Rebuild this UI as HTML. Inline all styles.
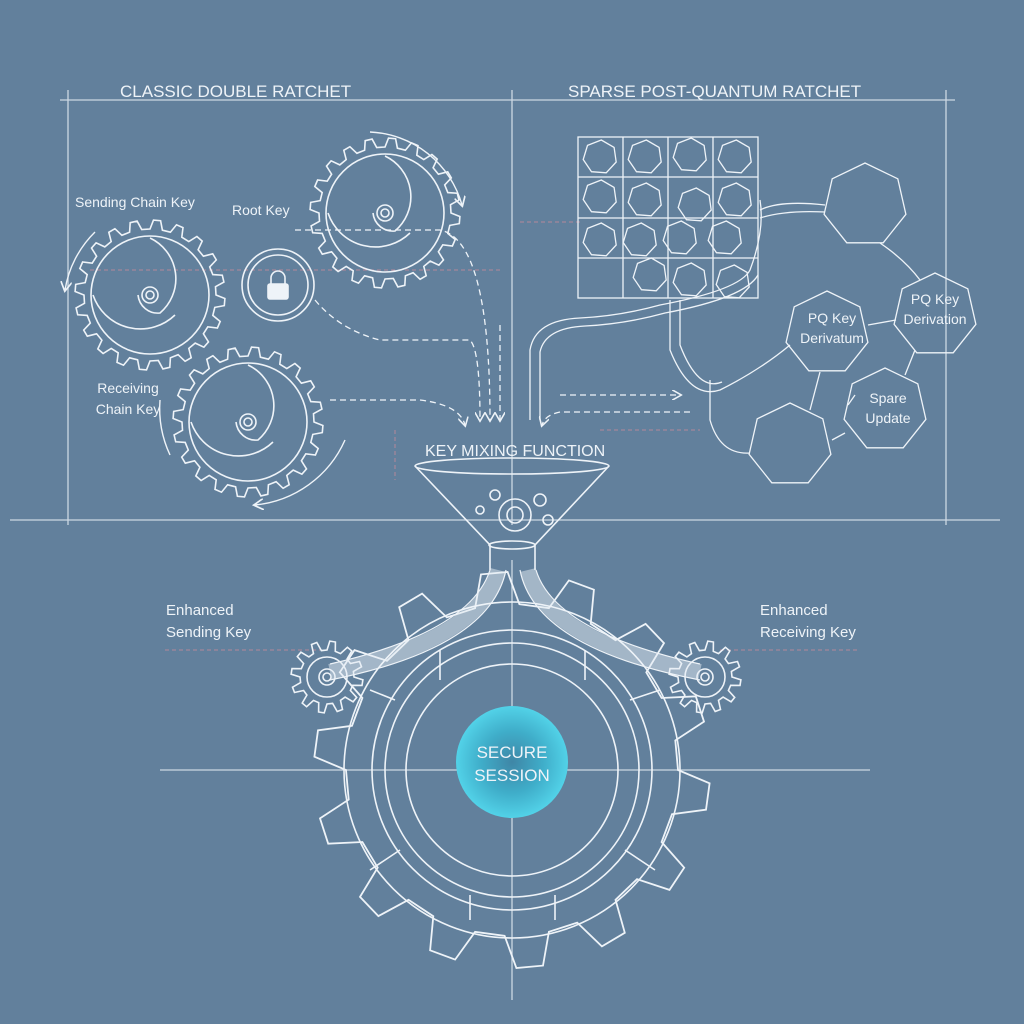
<!DOCTYPE html>
<html><head><meta charset="utf-8"><style>
html,body{margin:0;padding:0;background:#62809c;}
svg{display:block}
text{font-family:"Liberation Sans",sans-serif;fill:#eef3f8}
</style></head><body>
<svg id="s" width="1024" height="1024" viewBox="0 0 1024 1024" xmlns="http://www.w3.org/2000/svg">
<defs>
<radialGradient id="cy" cx="50%" cy="50%" r="50%">
<stop offset="0" stop-color="#3f86a6"/><stop offset="0.55" stop-color="#3fadc9"/><stop offset="1" stop-color="#52d2e8"/>
</radialGradient>
<marker id="ah" markerWidth="8" markerHeight="8" refX="6" refY="4" orient="auto"><path d="M0 0 L7 4 L0 8" fill="none" stroke="#eef3f8" stroke-width="1.2"/></marker>
</defs>
<rect width="1024" height="1024" fill="#62809c"/>
<g stroke="#dfe8f0" fill="none" stroke-width="1.3" opacity="0.85">
<line x1="60" y1="100" x2="955" y2="100"/>
<line x1="68" y1="90" x2="68" y2="525"/>
<line x1="512" y1="90" x2="512" y2="525"/>
<line x1="946" y1="90" x2="946" y2="525"/>
<line x1="10" y1="520" x2="1000" y2="520"/>
<line x1="160" y1="770" x2="870" y2="770"/>
<line x1="512" y1="560" x2="512" y2="1000"/>
</g>
<g stroke="#c98a9a" stroke-width="1" stroke-dasharray="4 3" fill="none" opacity="0.8">
<line x1="90" y1="270" x2="500" y2="270"/>
<line x1="520" y1="222" x2="580" y2="222"/>
<line x1="600" y1="430" x2="700" y2="430"/>
<line x1="165" y1="650" x2="320" y2="650"/>
<line x1="720" y1="650" x2="860" y2="650"/>
<line x1="395" y1="430" x2="395" y2="480"/>
</g>
<g id="gears" stroke="#eef3f8" fill="none" stroke-width="1.6"></g>
<g stroke="#eef3f8" fill="none" stroke-width="1.6">
<circle cx="278" cy="285" r="36"/><circle cx="278" cy="285" r="30"/>
<rect x="268" y="284" width="20" height="15" rx="2" fill="#eef3f8"/>
<path d="M271 284 v-6 a7 7 0 0 1 14 0 v6"/>
</g>
<g stroke="#eef3f8" fill="none" stroke-width="1.3" stroke-dasharray="6 4">
<path d="M315 300 Q340 330 380 340 L470 340 Q480 350 480 420" marker-end="url(#ah)"/>
<path d="M295 230 L440 230 Q490 240 490 420" marker-end="url(#ah)"/>
<path d="M330 400 L420 400 Q460 405 465 425" marker-end="url(#ah)"/>
<path d="M500 325 L500 420" marker-end="url(#ah)"/>
<path d="M690 412 L560 412 Q545 415 542 425" marker-end="url(#ah)"/>
<path d="M560 395 L680 395" marker-end="url(#ah)"/>
</g>
<g stroke="#eef3f8" fill="none" stroke-width="1.4">
<path d="M370 132 A100 100 0 0 1 462 205" marker-end="url(#ah)"/>
<path d="M95 232 A105 105 0 0 0 65 290" marker-end="url(#ah)"/>
<path d="M160 400 A110 110 0 0 0 170 455"/>
<path d="M345 440 A110 110 0 0 1 255 505" marker-end="url(#ah)"/>
</g>
<g stroke="#eef3f8" fill="none" stroke-width="1.3">
<rect x="578" y="137" width="180" height="161"/>
<line x1="623" y1="137" x2="623" y2="298"/><line x1="668" y1="137" x2="668" y2="298"/><line x1="713" y1="137" x2="713" y2="298"/>
<line x1="578" y1="177" x2="758" y2="177"/><line x1="578" y1="218" x2="758" y2="218"/><line x1="578" y1="258" x2="758" y2="258"/>
</g>
<g id="polys" stroke="#eef3f8" fill="none" stroke-width="1.3"></g>
<g stroke="#eef3f8" fill="none" stroke-width="1.3">
<path d="M530 420 L530 350 Q535 320 580 318 Q620 316 660 305 Q740 290 750 270 Q765 230 760 200"/>
<path d="M540 420 L540 352 Q545 328 585 326 Q625 324 665 313 Q745 298 758 275"/>
<path d="M670 300 L670 350 Q690 400 720 390 Q760 370 790 345"/>
<path d="M680 300 L680 345 Q698 392 722 382"/>
<path d="M710 380 L710 420 Q720 455 750 453"/>
<path d="M760 210 Q780 200 825 205"/><path d="M760 218 Q785 210 825 212"/>
<path d="M880 243 Q905 260 920 280"/>
<path d="M868 325 L896 320"/><path d="M820 372 L810 410"/><path d="M855 395 L848 405"/><path d="M832 440 L845 433"/><path d="M915 350 L905 375"/>
</g>
<g stroke="#eef3f8" fill="none" stroke-width="1.6">
<ellipse cx="512" cy="466" rx="97" ry="8"/>
<path d="M415 466 L490 545 L490 570 M609 466 L535 545 L535 570"/>
<ellipse cx="512" cy="545" rx="23" ry="4"/>
<circle cx="515" cy="515" r="16"/><circle cx="515" cy="515" r="8"/>
<circle cx="495" cy="495" r="5"/><circle cx="540" cy="500" r="6"/><circle cx="480" cy="510" r="4"/><circle cx="548" cy="520" r="5"/>
</g>
<g stroke="#e4ecf3" fill="none" stroke-width="16" opacity="0.5">
<path d="M498 570 Q480 640 330 672"/>
<path d="M528 570 Q545 640 700 672"/>
</g>
<g stroke="#eef3f8" fill="none" stroke-width="1.2">
<path d="M490 570 Q470 632 330 664"/><path d="M506 570 Q490 648 330 680"/>
<path d="M520 570 Q535 648 700 680"/><path d="M536 570 Q555 632 700 664"/>
</g>
<g stroke="#eef3f8" fill="none" stroke-width="1.6">
<circle cx="512" cy="770" r="168"/><circle cx="512" cy="770" r="140"/><circle cx="512" cy="770" r="127"/><circle cx="512" cy="770" r="106"/>
<path d="M440 680 L440 650 M585 680 L585 650 M395 700 L370 690 M630 700 L660 690 M400 850 L370 870 M625 850 L655 870 M470 895 L470 920 M555 895 L555 920"/>
</g>
<circle cx="512" cy="762" r="56" fill="url(#cy)"/>
<text x="512" y="758" font-size="17" text-anchor="middle">SECURE</text>
<text x="512" y="781" font-size="17" text-anchor="middle">SESSION</text>
<text x="120" y="97" font-size="17">CLASSIC DOUBLE RATCHET</text>
<text x="568" y="97" font-size="17">SPARSE POST-QUANTUM RATCHET</text>
<text x="75" y="207" font-size="14">Sending Chain Key</text>
<text x="232" y="215" font-size="14">Root Key</text>
<text x="128" y="393" font-size="14" text-anchor="middle">Receiving</text>
<text x="128" y="414" font-size="14" text-anchor="middle">Chain Key</text>
<text x="425" y="456" font-size="16">KEY MIXING FUNCTION</text>
<text x="166" y="615" font-size="15">Enhanced</text>
<text x="166" y="637" font-size="15">Sending Key</text>
<text x="760" y="615" font-size="15">Enhanced</text>
<text x="760" y="637" font-size="15">Receiving Key</text>
<text x="935" y="304" font-size="14" text-anchor="middle">PQ Key</text>
<text x="935" y="324" font-size="14" text-anchor="middle">Derivation</text>
<text x="832" y="323" font-size="14" text-anchor="middle">PQ Key</text>
<text x="832" y="343" font-size="14" text-anchor="middle">Derivatum</text>
<text x="888" y="403" font-size="14" text-anchor="middle">Spare</text>
<text x="888" y="423" font-size="14" text-anchor="middle">Update</text>
</svg>
<script>
function gear(cx,cy,ro,ri,n){var d="",st=Math.PI*2/n;for(var i=0;i<n;i++){var a=i*st;var p=[[ri,a],[ro,a+st*0.15],[ro,a+st*0.45],[ri,a+st*0.6]];p.forEach(function(q,j){var x=cx+q[0]*Math.cos(q[1]),y=cy+q[0]*Math.sin(q[1]);d+=(i==0&&j==0?"M":"L")+x.toFixed(1)+" "+y.toFixed(1)+" ";});}return d+"Z";}
var g=document.getElementById("gears"),NS="http://www.w3.org/2000/svg";
function add(tag,at){var e=document.createElementNS(NS,tag);for(var k in at)e.setAttribute(k,at[k]);g.appendChild(e);}
function smallGear(cx,cy,r,n,spiral){add("path",{d:gear(cx,cy,r,r-9,n)});add("circle",{cx:cx,cy:cy,r:r-16});add("circle",{cx:cx,cy:cy,r:8});add("circle",{cx:cx,cy:cy,r:4});
if(spiral){add("path",{d:"M"+cx+" "+(cy-r+18)+" A"+(r-30)+" "+(r-30)+" 0 0 1 "+(cx+10)+" "+(cy+18)+" A20 20 0 0 1 "+(cx-12)+" "+cy});add("path",{d:"M"+(cx-r+18)+" "+cy+" A"+(r-25)+" "+(r-25)+" 0 0 0 "+(cx+25)+" "+(cy+20)});}}
smallGear(150,295,75,20,1);smallGear(385,213,75,20,1);smallGear(248,422,75,20,1);
smallGear(327,677,36,12,0);smallGear(705,677,36,12,0);
add("path",{d:gear(512,770,198,166,14),"stroke-width":"1.8"});
var pg=document.getElementById("polys");
function hept(cx,cy,r,rot){var d="";for(var i=0;i<7;i++){var a=rot+i*Math.PI*2/7;d+=(i?"L":"M")+(cx+r*Math.cos(a)).toFixed(1)+" "+(cy+r*Math.sin(a)).toFixed(1);}var e=document.createElementNS(NS,"path");e.setAttribute("d",d+"Z");pg.appendChild(e);}
[[865,205],[935,315],[827,333],[885,410],[790,445]].forEach(function(c){hept(c[0],c[1],42,-Math.PI/2);});
var cells=[[600,157],[645,157],[690,155],[735,157],[600,197],[645,200],[695,205],[735,200],[600,240],[640,240],[680,238],[725,238],[690,280],[733,282],[650,275]];
cells.forEach(function(c){hept(c[0],c[1],17,0.3);});
</script>
</body></html>
